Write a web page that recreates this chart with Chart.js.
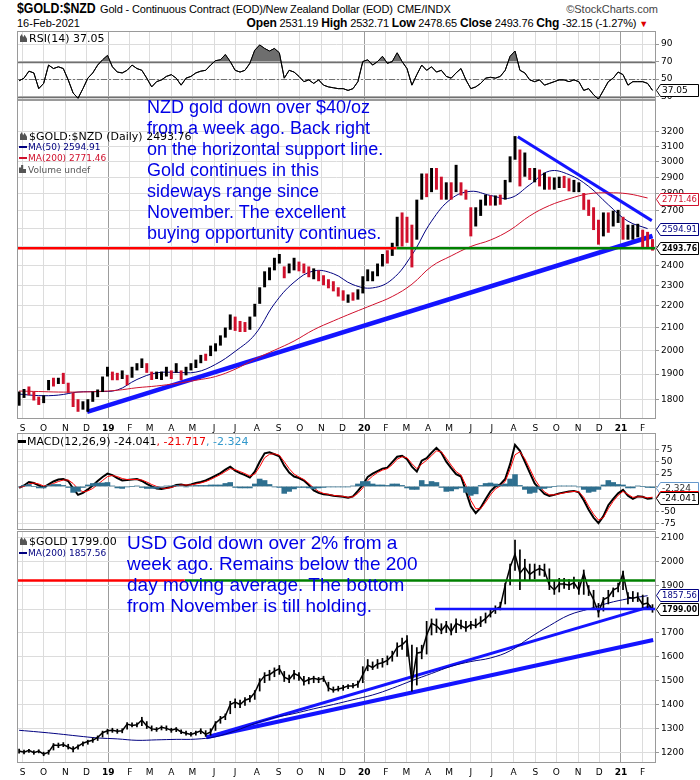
<!DOCTYPE html>
<html><head><meta charset="utf-8">
<script src="https://cdn.jsdelivr.net/npm/chart.js@4/dist/chart.umd.min.js"></script>
<style>
body{margin:0;background:#fff;width:700px;height:780px;overflow:hidden;position:relative;font-family:"Liberation Sans",Arial,sans-serif;}
canvas{position:absolute;left:0;}
.t{position:absolute;white-space:pre;line-height:1;z-index:5;}
.lg{font-family:"DejaVu Sans",sans-serif;}
.ann{position:absolute;white-space:pre;color:#0000e6;z-index:6;font-family:"Liberation Sans",Arial,sans-serif;}
.dash{display:inline-block;width:8px;height:2px;vertical-align:middle;margin-right:1px;position:relative;top:-1px;}
.ico{display:inline-block;width:7px;height:8px;background:#555;clip-path:polygon(0 100%,0 30%,25% 0,45% 40%,65% 10%,100% 60%,100% 100%);margin-right:2px;vertical-align:baseline;}
</style></head><body>
<canvas id="cRsi" width="700" height="69" style="top:31px"></canvas>
<canvas id="cMain" width="700" height="336" style="top:100px"></canvas>
<canvas id="cMacd" width="700" height="97" style="top:433px"></canvas>
<canvas id="cUsd" width="700" height="249" style="top:531px"></canvas>

<div class="t" style="left:17px;top:1px;font-weight:bold;font-size:14px;transform:scaleX(0.88);transform-origin:left;">$GOLD:$NZD</div>
<div class="t" style="left:100px;top:4px;font-size:11px;letter-spacing:-0.15px;">Gold - Continuous Contract (EOD)/New Zealand Dollar (EOD)</div>
<div class="t" style="left:397px;top:4px;font-size:11px;">CME/INDX</div>
<div class="t" style="right:42px;top:4px;font-size:11px;color:#444;">©StockCharts.com</div>
<div class="t" style="left:17px;top:18px;font-size:11px;">16-Feb-2021</div>
<div class="t" style="right:52px;top:17px;font-size:11px;letter-spacing:-0.15px;"><b style="font-size:12px">Open</b> 2531.19 <b style="font-size:12px">High</b> 2532.71 <b style="font-size:12px">Low</b> 2478.65 <b style="font-size:12px">Close</b> 2493.76 <b style="font-size:12px">Chg</b> -32.15 (-1.27%) <span style="color:#d00;font-size:9px">▼</span></div>

<div class="t lg" style="left:20px;top:33px;font-size:11px;"><span class="ico"></span>RSI(14) 37.05</div>

<div class="t lg" style="left:20px;top:131px;font-size:11px;"><span class="ico"></span>$GOLD:$NZD (Daily) 2493.76</div>
<div class="t lg" style="left:19px;top:143px;font-size:9px;color:#000080;"><span class="dash" style="background:#000080"></span>MA(50) 2594.91</div>
<div class="t lg" style="left:19px;top:154px;font-size:9px;color:#d0102c;"><span class="dash" style="background:#d0102c"></span>MA(200) 2771.46</div>
<div class="t lg" style="left:19px;top:165px;font-size:9px;color:#555;"><span class="ico" style="clip-path:polygon(0 100%,0 30%,30% 30%,30% 0,60% 0,60% 50%,100% 50%,100% 100%)"></span>Volume undef</div>

<div class="t lg" style="left:18px;top:436px;font-size:11px;"><span class="dash" style="background:#000;height:3px"></span>MACD(12,26,9) -24.041<span style="color:#e00">, -21.717</span><span style="color:#3399cc">, -2.324</span></div>

<div class="t lg" style="left:20px;top:536px;font-size:11px;"><span class="ico"></span>$GOLD 1799.00</div>
<div class="t lg" style="left:19px;top:549px;font-size:9px;color:#000080;"><span class="dash" style="background:#000080"></span>MA(200) 1857.56</div>

<div class="ann" style="left:147px;top:97px;font-size:18px;line-height:21px;">NZD gold down over $40/oz
from a week ago. Back right
on the horizontal support line.
Gold continues in this
sideways range since
November. The excellent
buying opportunity continues.</div>
<div class="ann" style="left:127px;top:532px;font-size:19px;line-height:21px;">USD Gold down over 2% from a
week ago. Remains below the 200
day moving average. The bottom
from November is till holding.</div>

<script>
// ---------------- DATA ----------------
const weekStart = '2018-08-27';      // first weekly bar
const axisStart = '2018-08-24';
const axisEnd   = '2021-02-20';
const maStepWeeks = 4;               // moving averages read every 4 weeks
const monthLabels = ['S','O','N','D','19','F','M','A','M','J','J','A','S','O','N','D','20','F','M','A','M','J','J','A','S','O','N','D','21','F'];
const firstMonth = [2018, 8];        // Sep 2018 (month index 8)

// NZD gold weekly bars
const nzdLow = [1775,1805,1815,1795,1778,1785,1835,1850,1860,1860,1825,1770,1752,1760,1752,1790,1808,1828,1890,1875,
1875,1880,1855,1885,1915,1925,1905,1876,1880,1876,1890,1880,1905,1875,1895,1915,1925,1945,1955,1975,
1995,2020,2055,2090,2085,2080,2080,2090,2150,2210,2290,2325,2375,2410,2335,2360,2375,2370,2360,2340,
2330,2320,2300,2285,2270,2245,2225,2215,2225,2230,2260,2320,2320,2345,2395,2410,2450,2500,2500,2520,
2390,2537,2765,2780,2810,2825,2765,2765,2765,2810,2790,2765,2555,2610,2670,2730,2730,2730,2735,2765,
2870,3013,2845,2905,2885,2870,2845,2825,2825,2825,2835,2835,2815,2810,2810,2705,2670,2590,2510,2555,
2575,2610,2630,2537,2537,2537,2550,2490,2495,2478];
const nzdHigh = [1830,1840,1850,1830,1810,1815,1876,1885,1885,1905,1865,1825,1800,1792,1800,1830,1838,1890,1930,1910,
1905,1915,1896,1930,1945,1965,1945,1910,1910,1910,1930,1915,1945,1915,1930,1945,1960,1980,1985,2020,
2030,2065,2100,2160,2150,2130,2125,2150,2210,2290,2370,2390,2440,2460,2395,2410,2440,2420,2410,2395,
2385,2375,2350,2330,2320,2290,2275,2255,2265,2280,2345,2380,2370,2410,2460,2480,2520,2665,2690,2665,
2620,2765,2925,2925,2960,2960,2905,2870,2870,2980,2870,2825,2720,2720,2765,2795,2790,2790,2795,2885,
3035,3170,3080,3060,2960,2960,2950,2930,2905,2900,2905,2910,2895,2885,2870,2805,2765,2720,2648,2690,
2690,2700,2705,2665,2620,2620,2625,2592,2580,2540];
const nzdClose = [1815,1830,1822,1805,1785,1810,1870,1860,1880,1870,1830,1780,1770,1775,1790,1820,1830,1885,1915,1890,
1885,1905,1870,1925,1935,1950,1915,1890,1895,1900,1925,1895,1925,1880,1915,1940,1950,1975,1965,2015,
2020,2060,2095,2145,2110,2100,2095,2140,2200,2280,2350,2380,2420,2420,2350,2400,2420,2400,2375,2350,
2370,2330,2310,2295,2280,2255,2235,2245,2240,2270,2330,2340,2345,2395,2450,2430,2500,2640,2600,2560,
2520,2740,2880,2830,2900,2870,2800,2840,2790,2900,2810,2780,2580,2680,2740,2760,2750,2770,2760,2870,
3010,3100,2920,2960,2900,2930,2870,2880,2850,2870,2880,2860,2830,2830,2840,2720,2700,2610,2560,2650,
2620,2680,2690,2560,2570,2590,2600,2535,2530,2494];
const nzdMa50  = [1820,1814,1816,1828,1830,1836,1878,1905,1907,1908,1940,1995,2068,2210,2315,2372,2358,2303,2287,2330,
2455,2640,2770,2815,2790,2775,2855,2940,2918,2845,2735,2640,2598];
const nzdMa200 = [1832,1830,1828,1828,1830,1835,1845,1852,1862,1875,1890,1920,1962,2000,2040,2090,2130,2168,2205,2245,
2305,2395,2450,2500,2535,2590,2670,2730,2770,2800,2806,2800,2775];
const nzdTicks = [1800,1900,2000,2100,2200,2300,2400,2500,2600,2700,2800,2900,3000,3100,3200];
const nzdLast = {close:2493.76, ma50:2594.91, ma200:2771.46};
const nzdSupportLevel = 2490, nzdLevelSplit = '2020-02-16';
const nzdUptrend   = [['2018-12-02',1752],['2021-02-15',2557]];
const nzdDowntrend = [['2020-08-07',3166],['2021-02-14',2643]];

// RSI(14) weekly
const rsi14 = [48,51,59,57,39,45,66,62,64,62,49,34,28,39,51,57,66,72,77,64,
58,57,60,66,62,60,51,41,47,49,53,55,51,43,51,53,57,59,60,66,
71,72,78,70,60,58,60,68,83,89,85,82,85,80,51,60,58,53,47,49,
45,49,43,41,40,39,39,37,39,47,70,72,66,70,76,68,70,80,70,62,
43,55,66,60,64,58,60,53,51,57,62,49,39,41,45,51,52,51,53,60,
76,82,60,57,49,47,49,43,45,47,49,49,47,49,47,37,39,32,27,37,
47,51,58,55,43,47,47,47,45,37.05];
const rsiTicks = [30,50,70,90];

// MACD(12,26,9) weekly
const macdLine = [-3,2,9,7,2,-2,4,10,14,15,11,-4,-17,-13,-6,2,11,19,26,23,
17,12,13,14,15,11,5,0,-4,-5,-3,-1,3,4,2,4,7,9,12,17,
22,27,34,40,32,27,23,18,30,50,67,69,65,61,42,28,20,17,12,3,
-8,-13,-16,-17,-19,-20,-21,-23,-20,-9,3,19,26,31,36,38,49,60,62,55,
40,30,52,57,68,78,68,50,37,25,20,-10,-40,-54,-43,-26,-10,0,4,15,
45,84,72,50,28,6,-5,-15,-19,-17,-14,-12,-10,-9,-12,-28,-47,-63,-74,-60,
-38,-25,-14,-7,-19,-25,-20,-21,-25,-24.041];
const macdSignal = [-2,0,5,7,5,1,2,6,10,13,13,6,-5,-11,-9,-4,4,12,20,22,
20,16,14,14,14,13,9,4,0,-3,-4,-2,1,3,3,3,5,7,10,14,
19,24,30,36,34,30,26,21,25,40,58,65,66,63,50,36,25,19,14,6,
-3,-10,-14,-16,-18,-19,-20,-22,-21,-14,-3,12,21,28,33,36,44,55,60,58,
46,36,45,53,62,72,70,57,43,30,23,2,-28,-45,-45,-32,-17,-5,1,10,
35,64,70,56,36,15,0,-11,-17,-17,-15,-13,-11,-10,-11,-22,-40,-56,-68,-63,
-45,-30,-18,-10,-16,-22,-21,-21,-23,-21.717];
const macdHist = [-1,2,4,0,-3,-3,2,4,4,2,-2,-12,-10,-2,3,6,7,7,8,1,
-3,-4,-1,0,1,-2,-4,-4,-4,-2,1,1,2,1,-1,1,2,2,2,3,
3,3,6,8,-2,-3,-3,-3,5,15,12,4,-1,-2,-14,-10,-5,-2,-2,-3,
-5,-3,-2,-1,-1,-1,-1,-1,1,5,10,10,5,3,3,2,5,5,2,-3,
-6,-6,12,4,10,8,-2,-10,-9,-5,-3,-12,-18,-15,2,6,7,5,3,5,
15,24,2,-6,-14,-12,-5,-4,-2,0,1,1,1,1,-1,-6,-12,-10,-6,3,
12,8,4,3,-3,-3,1,0,-2,-2.324];
const macdTicks = [-75,-50,-25,0,25,50,75];

// USD gold weekly close / high / low
const usdClose = [1205,1200,1208,1198,1205,1192,1200,1230,1228,1232,1222,1212,1225,1238,1245,1250,1262,1282,1290,1292,
1288,1290,1318,1312,1315,1335,1310,1298,1295,1305,1300,1292,1298,1285,1280,1275,1282,1290,1275,1285,
1322,1340,1352,1400,1410,1400,1418,1425,1450,1495,1520,1525,1540,1550,1515,1505,1530,1520,1495,1505,
1510,1505,1510,1470,1460,1465,1470,1478,1478,1485,1525,1565,1555,1570,1575,1585,1605,1640,1650,1670,
1490,1615,1620,1690,1740,1730,1710,1735,1705,1740,1730,1720,1735,1730,1745,1760,1780,1800,1810,1900,
1975,2030,1950,1975,1945,1960,1970,1960,1900,1880,1905,1905,1900,1910,1880,1950,1880,1840,1785,1840,
1850,1880,1890,1950,1850,1845,1850,1820,1825,1799];
const usdHigh = [1215,1210,1214,1208,1212,1202,1210,1238,1240,1242,1235,1225,1232,1245,1252,1262,1270,1290,1298,1302,
1298,1300,1326,1325,1325,1348,1330,1312,1305,1312,1312,1302,1305,1295,1290,1285,1290,1300,1292,1300,
1330,1352,1362,1415,1425,1420,1430,1440,1460,1510,1535,1545,1555,1565,1540,1525,1545,1535,1520,1515,
1520,1515,1520,1495,1475,1478,1482,1485,1490,1500,1560,1590,1580,1590,1595,1605,1625,1660,1680,1690,
1650,1640,1650,1750,1760,1760,1740,1750,1740,1760,1755,1750,1750,1760,1770,1785,1800,1815,1830,1910,
1990,2090,2050,2010,1990,1990,1985,1990,1970,1920,1930,1930,1925,1935,1915,1965,1900,1880,1825,1850,
1880,1890,1910,1960,1870,1875,1870,1860,1850,1820];
const usdLow = [1195,1192,1198,1190,1196,1184,1190,1208,1218,1222,1212,1200,1212,1225,1232,1240,1248,1262,1275,1282,
1278,1280,1295,1305,1305,1310,1298,1288,1286,1292,1290,1282,1285,1276,1270,1266,1270,1276,1265,1270,
1290,1320,1335,1360,1385,1385,1395,1410,1420,1455,1490,1500,1515,1525,1495,1490,1505,1500,1480,1485,
1490,1490,1495,1455,1450,1455,1458,1465,1468,1470,1490,1540,1545,1550,1555,1565,1580,1600,1630,1600,
1455,1480,1590,1610,1690,1700,1695,1700,1690,1700,1715,1705,1715,1720,1725,1740,1765,1780,1795,1820,
1900,1960,1880,1920,1920,1925,1940,1935,1880,1860,1870,1885,1880,1885,1860,1860,1855,1805,1765,1790,
1820,1850,1870,1880,1820,1830,1830,1800,1800,1785];
const usdMa200 = [1292,1285,1277,1268,1260,1256,1250,1252,1254,1255,1265,1290,1320,1345,1362,1382,1400,1420,1440,1468,
1500,1530,1560,1580,1595,1625,1680,1730,1775,1800,1825,1843,1856];
const usdTicks = [1200,1300,1400,1500,1600,1700,1800,1900,2000,2100];
const usdLast = {close:1799.00, ma200:1857.56};
const usdResistLevel = 1920, usdLevelSplit = '2019-04-20';
const usdFloorLevel = 1800, usdFloorStart = '2020-04-11';
const usdFanUpper = [['2019-05-21',1263],['2021-02-13',1811]];
const usdFanLower = [['2019-05-21',1263],['2021-02-16',1670]];

// ---------------- HELPERS ----------------
const DAY0 = Date.UTC(2019,0,1);
const dayOf = s => (Date.parse(s+'T00:00:00Z') - DAY0) / 864e5;
const wk0 = dayOf(weekStart);
const wx = i => wk0 + 7*i;
const xMin = dayOf(axisStart), xMax = dayOf(axisEnd);
const monthDays = monthLabels.map((_,k) => (Date.UTC(firstMonth[0], firstMonth[1]+k, 1) - DAY0) / 864e5);
const isYear = i => /^\d/.test(monthLabels[i] || '');
const weekly = arr => arr.map((v,i) => ({x: wx(i), y: v}));
const stepped = arr => arr.map((v,k) => ({x: wx(k*maStepWeeks), y: v}));
const seg = pts => pts.map(([d,v]) => ({x: dayOf(d), y: v}));
const AX_FONT = {family:'"DejaVu Sans", sans-serif', size:9};

function xScale(show){
  return {
    type:'linear', min:xMin, max:xMax, position:'bottom', offset:false,
    afterBuildTicks: s => { s.ticks = monthDays.map(v => ({value:v})); },
    afterFit: s => { s.height = show ? 17 : 0; s.paddingLeft = 0; s.paddingRight = 0; },
    grid: { color: c => isYear(c.index) ? '#9c9c9c' : '#dcdcdc', drawTicks:false, lineWidth:1, offset:false },
    border: { display:false },
    ticks: { display: show, autoSkip:false, maxRotation:0, minRotation:0, padding:4, color:'#000',
      font: c => ({family:'"DejaVu Sans", sans-serif', size:9, weight: isYear(c.index) ? 'bold' : 'normal'}),
      callback: (v,i) => monthLabels[i] }
  };
}
function yScale(type, min, max, ticks){
  return {
    type, position:'right', min, max,
    afterBuildTicks: s => { s.ticks = ticks.map(v => ({value:v})); },
    afterFit: s => { s.width = 44; s.paddingTop = 0; s.paddingBottom = 0; },
    grid: { color:'#dcdcdc', drawTicks:true, tickLength:3, tickColor:'#999' },
    border: { display:false },
    ticks: { font: AX_FONT, color:'#000', padding:2, callback: v => String(v) }
  };
}

const frame = { id:'frame', afterDraw(chart){
  const {ctx, chartArea:a} = chart; ctx.save();
  ctx.strokeStyle = '#9a9a9a'; ctx.lineWidth = 1;
  ctx.strokeRect(Math.round(a.left)+0.5, Math.round(a.top)+0.5, Math.round(a.right-a.left)-1, Math.round(a.bottom-a.top)-1);
  ctx.restore(); } };

const refLines = { id:'refLines', beforeDatasetsDraw(chart, args, opts){
  const items = opts.items || []; if (!items.length) return;
  const {ctx, chartArea:a} = chart, y = chart.scales.y; ctx.save();
  items.forEach(it => { const py = Math.round(y.getPixelForValue(it.value)) + 0.5;
    ctx.strokeStyle = it.color; ctx.lineWidth = it.width || 1; ctx.setLineDash(it.dash || []);
    ctx.beginPath(); ctx.moveTo(a.left, py); ctx.lineTo(a.right, py); ctx.stroke(); });
  ctx.restore(); } };

const valueBoxes = { id:'valueBoxes', afterDraw(chart, args, opts){
  const items = opts.items || []; const {ctx, chartArea:a} = chart, y = chart.scales.y;
  ctx.save();
  items.forEach(it => {
    const py = Math.round(y.getPixelForValue(it.value)) + 0.5;
    ctx.font = (it.bold ? 'bold ' : '') + '9px "DejaVu Sans", sans-serif';
    const x0 = a.right + 0.5, xb = x0 + 4, xr = 698.5, h = 12;
    ctx.beginPath(); ctx.moveTo(x0, py); ctx.lineTo(xb, py - h/2); ctx.lineTo(xr, py - h/2);
    ctx.lineTo(xr, py + h/2); ctx.lineTo(xb, py + h/2); ctx.closePath();
    ctx.fillStyle = '#fff'; ctx.fill(); ctx.strokeStyle = it.border; ctx.lineWidth = 1; ctx.stroke();
    ctx.fillStyle = it.color; ctx.textAlign = 'left'; ctx.textBaseline = 'middle';
    ctx.fillText(it.text, xb + 1.5, py + 0.5, xr - xb - 3);
  });
  ctx.restore(); } };

const baseOpts = (scales, pluginOpts) => ({
  responsive:false, animation:false, devicePixelRatio:1,
  layout:{ padding:{ left:17, right:0, top:0, bottom:0 } },
  plugins:{ legend:{display:false}, tooltip:{enabled:false}, ...pluginOpts },
  scales, elements:{ point:{ radius:0 } }
});
const lineDs = (data, color, width, extra) => Object.assign({ type:'line', data, borderColor:color, borderWidth:width, pointRadius:0, fill:false, tension:0 }, extra || {});

// ---------------- RSI ----------------
new Chart(document.getElementById('cRsi'), {
  type:'line',
  data:{ datasets:[
    lineDs(weekly(rsi14), '#000', 1, { fill:{ target:{value:70}, above:'#6e6e6e', below:'rgba(0,0,0,0)' } }),
    lineDs(weekly(rsi14), '#000', 1, { fill:{ target:{value:30}, above:'rgba(0,0,0,0)', below:'#6e6e6e' } })
  ]},
  options: baseOpts({ x:xScale(false), y:yScale('linear', 26, 105, rsiTicks) }, {
    refLines:{ items:[ {value:70, color:'#707070', width:1.5}, {value:30, color:'#707070', width:1.5}, {value:50, color:'#707070', width:1, dash:[6,2,2,2]} ] },
    valueBoxes:{ items:[ {value:rsi14[rsi14.length-1], text:String(rsi14[rsi14.length-1]), border:'#000', color:'#000'} ] }
  }),
  plugins:[frame, refLines, valueBoxes]
});

// ---------------- MAIN (NZD) ----------------
const nzdBars = nzdLow.map((l,i) => ({x: wx(i), y:[l, nzdHigh[i]]}));
const nzdColors = nzdClose.map((c,i) => (i === 0 || c >= nzdClose[i-1]) ? '#000' : '#d0102c');
new Chart(document.getElementById('cMain'), {
  type:'bar',
  data:{ datasets:[
    lineDs(seg([[axisStart, nzdSupportLevel],[nzdLevelSplit, nzdSupportLevel]]), '#ff0000', 2.5),
    lineDs(seg([[nzdLevelSplit, nzdSupportLevel],[axisEnd, nzdSupportLevel]]), '#008000', 2.5),
    { type:'bar', data:nzdBars, backgroundColor:nzdColors, borderWidth:0, barPercentage:0.6, categoryPercentage:1, grouped:false },
    lineDs(stepped(nzdMa200), '#d0102c', 1, {tension:0.4}),
    lineDs(stepped(nzdMa50), '#000080', 1, {tension:0.4}),
    lineDs(seg(nzdUptrend), '#1414ff', 4.5),
    lineDs(seg(nzdDowntrend), '#1414ff', 3)
  ]},
  options: baseOpts({ x:xScale(true), y:yScale('logarithmic', 1725, 3426, nzdTicks) }, {
    valueBoxes:{ items:[
      {value:nzdLast.ma200, text:nzdLast.ma200.toFixed(2), border:'#d0102c', color:'#d0102c'},
      {value:nzdLast.ma50, text:nzdLast.ma50.toFixed(2), border:'#000080', color:'#000080'},
      {value:nzdLast.close, text:nzdLast.close.toFixed(2), border:'#000', color:'#000', bold:true}
    ] }
  }),
  plugins:[frame, valueBoxes]
});

// ---------------- MACD ----------------
new Chart(document.getElementById('cMacd'), {
  type:'line',
  data:{ datasets:[
    { type:'bar', data:weekly(macdHist), backgroundColor:'#2e6f8f', borderWidth:0, barPercentage:1, categoryPercentage:1, grouped:false },
    lineDs(weekly(macdSignal), '#ff0000', 1),
    lineDs(weekly(macdLine), '#000', 2)
  ]},
  options: baseOpts({ x:xScale(false), y:yScale('linear', -88, 108, macdTicks) }, {
    valueBoxes:{ items:[
      {value:macdHist[macdHist.length-1], text:String(macdHist[macdHist.length-1]), border:'#6699cc', color:'#333'},
      {value:macdSignal[macdSignal.length-1], text:String(macdSignal[macdSignal.length-1]), border:'#ff0000', color:'#ff0000'},
      {value:macdLine[macdLine.length-1], text:String(macdLine[macdLine.length-1]), border:'#000', color:'#000'}
    ] }
  }),
  plugins:[frame, valueBoxes]
});

// ---------------- USD ----------------
const usdBars = usdLow.map((l,i) => ({x: wx(i), y:[l, usdHigh[i]]}));
new Chart(document.getElementById('cUsd'), {
  type:'line',
  data:{ datasets:[
    lineDs(seg([[axisStart, usdResistLevel],[usdLevelSplit, usdResistLevel]]), '#ff0000', 2.5),
    lineDs(seg([[usdLevelSplit, usdResistLevel],[axisEnd, usdResistLevel]]), '#008000', 2.5),
    lineDs(seg([[usdFloorStart, usdFloorLevel],[axisEnd, usdFloorLevel]]), '#1414ff', 2.5),
    { type:'bar', data:usdBars, backgroundColor:'#000', borderWidth:0, barPercentage:0.35, categoryPercentage:1, grouped:false },
    lineDs(weekly(usdClose), '#000', 1.5),
    lineDs(stepped(usdMa200), '#000080', 1, {tension:0.4}),
    lineDs(seg(usdFanUpper), '#1414ff', 3),
    lineDs(seg(usdFanLower), '#1414ff', 4)
  ]},
  options: baseOpts({ x:xScale(true), y:yScale('linear', 1155, 2127, usdTicks) }, {
    valueBoxes:{ items:[
      {value:usdLast.ma200, text:usdLast.ma200.toFixed(2), border:'#000080', color:'#000080'},
      {value:usdLast.close, text:usdLast.close.toFixed(2), border:'#000', color:'#000', bold:true}
    ] }
  }),
  plugins:[frame, valueBoxes]
});
</script>
</body></html>
